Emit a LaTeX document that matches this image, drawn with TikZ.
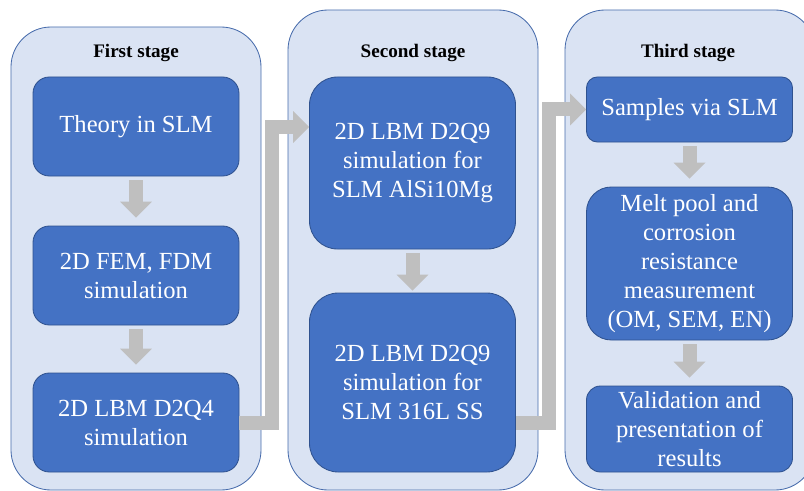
\documentclass[tikz,border=0pt]{standalone}
\usepackage{fontspec}
\setmainfont{Liberation Serif}
\usepackage{tikz}
\usetikzlibrary{arrows.meta}
\definecolor{stagefill}{RGB}{218,227,243}
\definecolor{stageline}{RGB}{72,108,172}
\definecolor{boxfill}{RGB}{68,114,196}
\definecolor{boxline}{RGB}{47,82,143}
\definecolor{arrowgray}{RGB}{191,191,191}

\begin{document}
\begin{tikzpicture}[
  stage/.style={draw=stageline,fill=stagefill,line width=0.6pt,rounded corners=1cm,
    minimum width=6.25cm},
  stagetitle/.style={font=\fontsize{13.6}{16}\selectfont\bfseries},
  task/.style={draw=boxline,fill=boxfill,line width=0.6pt,text=white,align=center,
    inner sep=0pt,minimum width=5.15cm,font=\fontsize{17.5}{20.6}\selectfont},
  % block arrows, Office style
  flow/.style={draw=arrowgray,line width=0.35cm,line join=miter,
    -{Triangle[width=0.775cm,length=0.4cm]}},
  downarrow/.style={flow,shorten <=0.1cm,shorten >=0.2cm}
]
\useasboundingbox (0,0) rectangle (20.1,-12.275);
\clip (0,0) rectangle (20.1,-12.275);

% ---- stage panels ----
\node[stage,minimum height=11.575cm] (p1) at (3.4,-6.4625) {};
\node[stage,minimum height=12cm]     (p2) at (10.325,-6.25) {};
\node[stage,minimum height=12cm]     (p3) at (17.25,-6.25) {};
\node[stagetitle] (t1) at (3.4,-1.325)   {First stage};
\node[stagetitle] (t2) at (10.325,-1.325) {Second stage};
\node[stagetitle] (t3) at (17.2,-1.325)  {Third stage};

% ---- first stage ----
\node[task,minimum height=2.475cm,rounded corners=0.41cm] (a) at (3.4,-3.1625) {Theory in SLM};
\node[task,minimum height=2.475cm,rounded corners=0.41cm] (b) at (3.4,-6.8875) {2D FEM, FDM\\simulation};
\node[task,minimum height=2.475cm,rounded corners=0.41cm] (c) at (3.4,-10.5625) {2D LBM D2Q4\\simulation};
\draw[downarrow] (a) -- (b);
\draw[downarrow] (b) -- (c);

% ---- second stage ----
\node[task,minimum height=4.3cm,rounded corners=0.7cm]   (d) at (10.3125,-4.075) {2D LBM D2Q9\\simulation for\\SLM AlSi10Mg};
\node[task,minimum height=4.475cm,rounded corners=0.72cm] (e) at (10.3125,-9.5625) {2D LBM D2Q9\\simulation for\\SLM 316L SS};
\draw[downarrow,shorten >=0.05cm] (d) -- (e);

% ---- third stage ----
\node[task,minimum height=1.625cm,rounded corners=0.27cm] (f) at (17.2375,-2.7375) {Samples via SLM};
\node[task,minimum height=3.825cm,rounded corners=0.62cm] (g) at (17.2375,-6.5875) {Melt pool and\\corrosion\\resistance\\measurement\\(OM, SEM, EN)};
\node[task,minimum height=2.15cm,rounded corners=0.35cm]  (h) at (17.2375,-10.725) {Validation and\\presentation of\\results};
\draw[downarrow] (f) -- (g);
\draw[downarrow] (g) -- (h);

% ---- links between stages ----
\draw[flow] (c.east) -| ([xshift=-0.925cm,yshift=0.9cm]d.west) -- ([yshift=0.9cm]d.west);
\draw[flow] ([yshift=-1.0cm]e.east) -| ([xshift=-0.925cm]f.west) -- (f.west);
\end{tikzpicture}
\end{document}
